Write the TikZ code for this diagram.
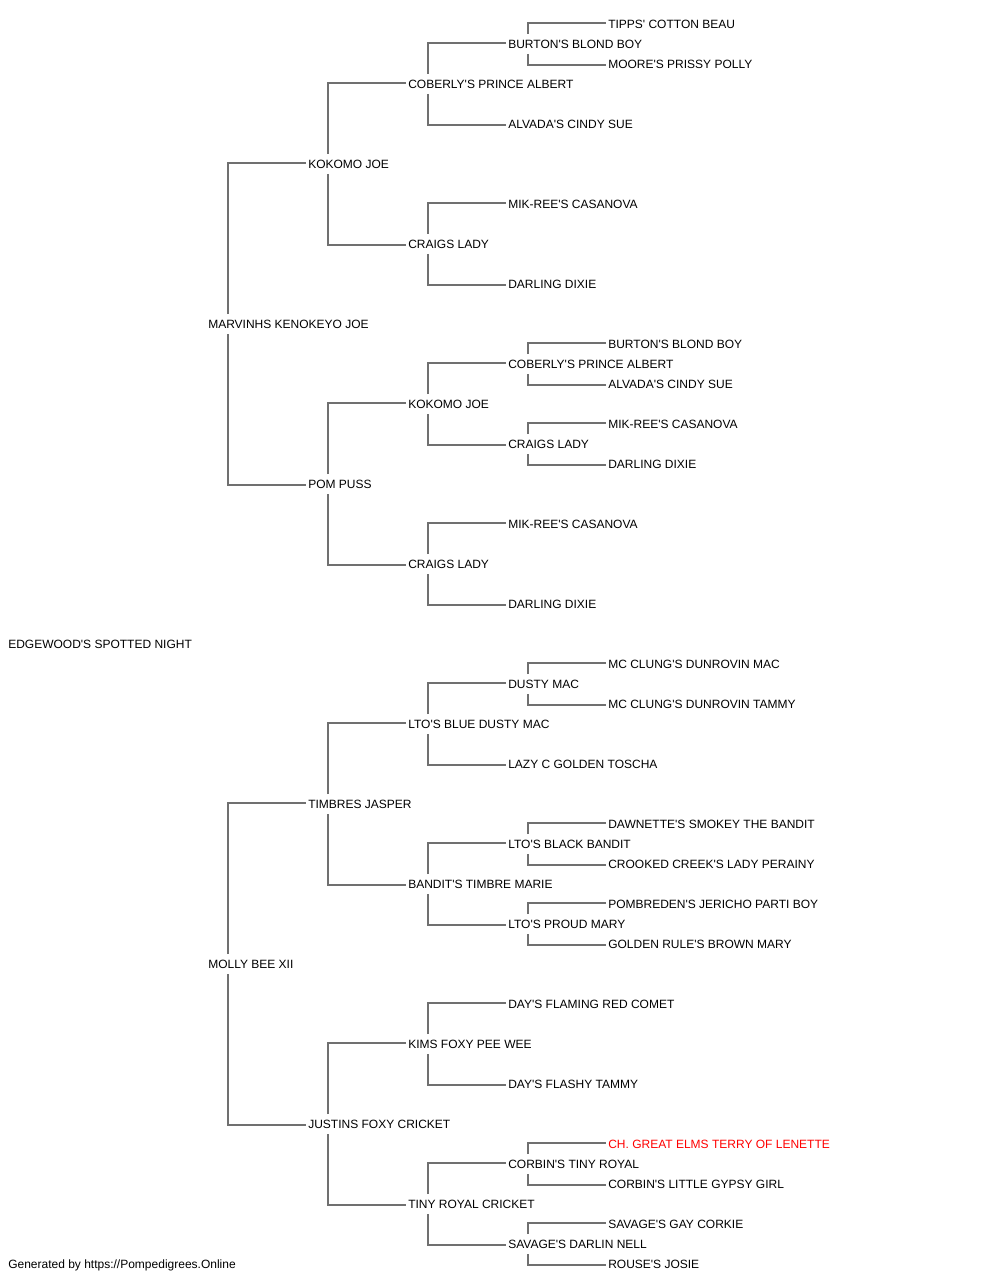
\documentclass[tikz,border=0pt]{standalone}
\usepackage{fontspec}
\newfontfamily\pedfont{Liberation Sans}
\definecolor{linegray}{RGB}{112,112,112}
\definecolor{champred}{RGB}{255,0,0}

\tikzset{
	dog/.style={anchor=west,inner sep=0pt,text height=6.45pt,text depth=0pt,font=\pedfont\fontsize{9pt}{10pt}\selectfont},
	champ/.style={text=champred},
	link/.style={draw=linegray,line width=1.1pt}
}
% elbow from a dog to its sire (above) and its dam (below)
\newcommand{\tosire}[2]{\draw[link] ([xshift=15pt,yshift=7.5pt]#1.west) |- ([xshift=-1.5pt,yshift=0.75pt]#2.west);}
\newcommand{\todam}[2]{\draw[link] ([xshift=15pt,yshift=-7.5pt]#1.west) |- ([xshift=-1.5pt,yshift=-0.75pt]#2.west);}

\begin{document}
\begin{tikzpicture}[x=0.75pt,y=-0.75pt]
	\useasboundingbox (0,-1) rectangle (1000,1279);
	
	\node[dog] (r) at (8,643) {EDGEWOOD'S SPOTTED NIGHT};
	
	% sire side
	\node[dog] (s) at (208,323) {MARVINHS KENOKEYO JOE};
	\node[dog] (ss) at (308,163) {KOKOMO JOE};
	\node[dog] (sss) at (408,83) {COBERLY'S PRINCE ALBERT};
	\node[dog] (ssss) at (508,43) {BURTON'S BLOND BOY};
	\node[dog] (sssss) at (608,23) {TIPPS' COTTON BEAU};
	\node[dog] (ssssd) at (608,63) {MOORE'S PRISSY POLLY};
	\node[dog] (sssd) at (508,123) {ALVADA'S CINDY SUE};
	\node[dog] (ssd) at (408,243) {CRAIGS LADY};
	\node[dog] (ssds) at (508,203) {MIK-REE'S CASANOVA};
	\node[dog] (ssdd) at (508,283) {DARLING DIXIE};
	\node[dog] (sd) at (308,483) {POM PUSS};
	\node[dog] (sds) at (408,403) {KOKOMO JOE};
	\node[dog] (sdss) at (508,363) {COBERLY'S PRINCE ALBERT};
	\node[dog] (sdsss) at (608,343) {BURTON'S BLOND BOY};
	\node[dog] (sdssd) at (608,383) {ALVADA'S CINDY SUE};
	\node[dog] (sdsd) at (508,443) {CRAIGS LADY};
	\node[dog] (sdsds) at (608,423) {MIK-REE'S CASANOVA};
	\node[dog] (sdsdd) at (608,463) {DARLING DIXIE};
	\node[dog] (sdd) at (408,563) {CRAIGS LADY};
	\node[dog] (sdds) at (508,523) {MIK-REE'S CASANOVA};
	\node[dog] (sddd) at (508,603) {DARLING DIXIE};
	
	% dam side
	\node[dog] (d) at (208,963) {MOLLY BEE XII};
	\node[dog] (ds) at (308,803) {TIMBRES JASPER};
	\node[dog] (dss) at (408,723) {LTO'S BLUE DUSTY MAC};
	\node[dog] (dsss) at (508,683) {DUSTY MAC};
	\node[dog] (dssss) at (608,663) {MC CLUNG'S DUNROVIN MAC};
	\node[dog] (dsssd) at (608,703) {MC CLUNG'S DUNROVIN TAMMY};
	\node[dog] (dssd) at (508,763) {LAZY C GOLDEN TOSCHA};
	\node[dog] (dsd) at (408,883) {BANDIT'S TIMBRE MARIE};
	\node[dog] (dsds) at (508,843) {LTO'S BLACK BANDIT};
	\node[dog] (dsdss) at (608,823) {DAWNETTE'S SMOKEY THE BANDIT};
	\node[dog] (dsdsd) at (608,863) {CROOKED CREEK'S LADY PERAINY};
	\node[dog] (dsdd) at (508,923) {LTO'S PROUD MARY};
	\node[dog] (dsdds) at (608,903) {POMBREDEN'S JERICHO PARTI BOY};
	\node[dog] (dsddd) at (608,943) {GOLDEN RULE'S BROWN MARY};
	\node[dog] (dd) at (308,1123) {JUSTINS FOXY CRICKET};
	\node[dog] (dds) at (408,1043) {KIMS FOXY PEE WEE};
	\node[dog] (ddss) at (508,1003) {DAY'S FLAMING RED COMET};
	\node[dog] (ddsd) at (508,1083) {DAY'S FLASHY TAMMY};
	\node[dog] (ddd) at (408,1203) {TINY ROYAL CRICKET};
	\node[dog] (ddds) at (508,1163) {CORBIN'S TINY ROYAL};
	\node[dog,champ] (dddss) at (608,1143) {CH. GREAT ELMS TERRY OF LENETTE};
	\node[dog] (dddsd) at (608,1183) {CORBIN'S LITTLE GYPSY GIRL};
	\node[dog] (dddd) at (508,1243) {SAVAGE'S DARLIN NELL};
	\node[dog] (dddds) at (608,1223) {SAVAGE'S GAY CORKIE};
	\node[dog] (ddddd) at (608,1263) {ROUSE'S JOSIE};
	
	\node[dog] (credit) at (8,1263) {Generated by https://Pompedigrees.Online};
	
	% connectors
	\foreach \p in {s,ss,sss,ssss,ssd,sd,sds,sdss,sdsd,sdd,d,ds,dss,dsss,dsd,dsds,dsdd,dd,dds,ddd,ddds,dddd}{
		\tosire{\p}{\p s}
		\todam{\p}{\p d}
	}
	
\end{tikzpicture}
\end{document}
